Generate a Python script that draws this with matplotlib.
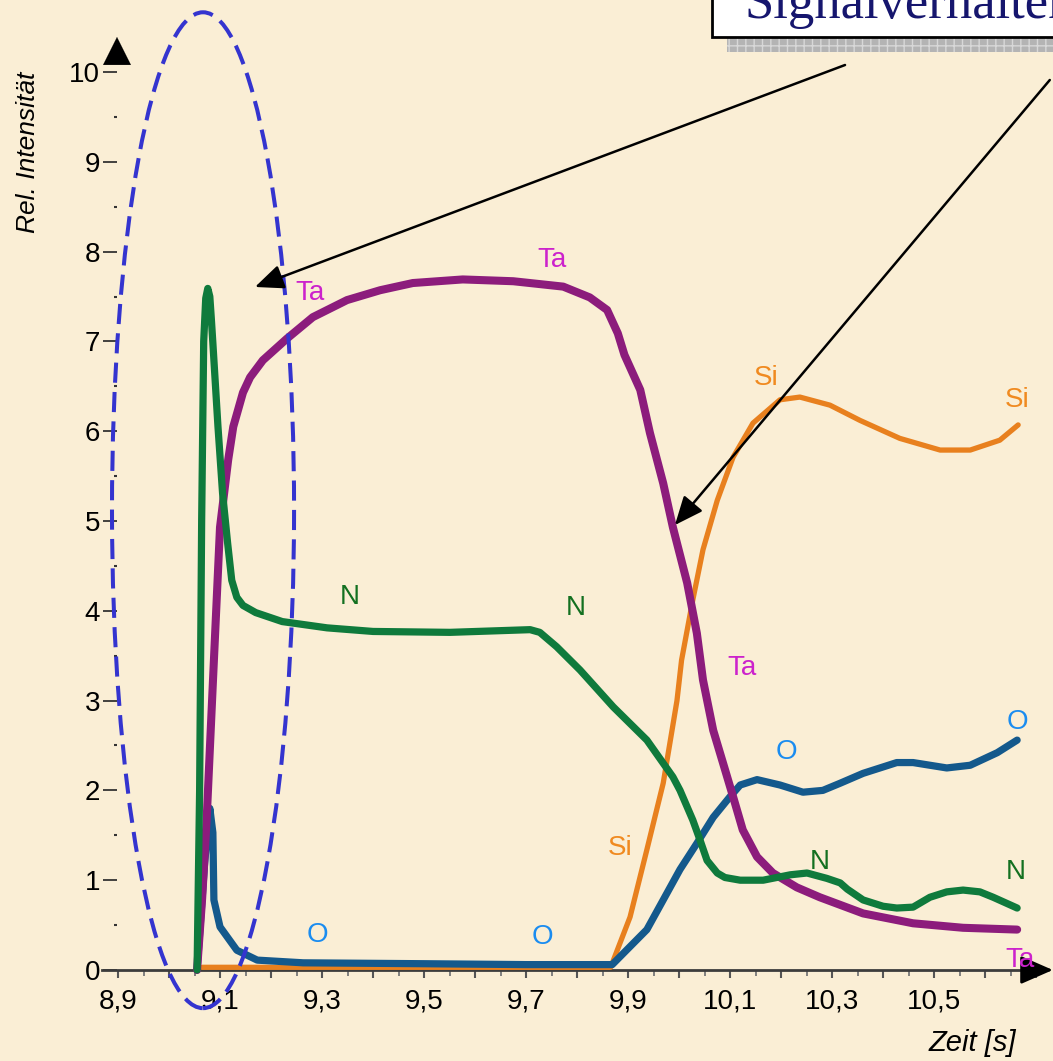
import numpy as np
import matplotlib
matplotlib.use("Agg")
import matplotlib.pyplot as plt
from matplotlib.patches import Ellipse, Rectangle

# --- data ---
n_t = [9.055, 9.060, 9.064, 9.068, 9.072, 9.076, 9.080, 9.083, 9.086, 9.096, 9.105, 9.115,
       9.123, 9.133, 9.145, 9.17, 9.222, 9.31, 9.40, 9.551, 9.708, 9.727, 9.76, 9.806, 9.871,
       9.937, 9.988, 10.002, 10.027, 10.041, 10.055, 10.075, 10.09, 10.12, 10.165, 10.218,
       10.251, 10.29, 10.316, 10.33, 10.361, 10.40, 10.427, 10.459, 10.492, 10.525, 10.557,
       10.59, 10.616, 10.663]
n_y = [0.0, 2.0, 5.0, 7.0, 7.48, 7.59, 7.5, 7.25, 6.98, 6.05, 5.31, 4.75,
       4.34, 4.15, 4.06, 3.98, 3.88, 3.81, 3.77, 3.76, 3.79, 3.76, 3.6, 3.34, 2.93,
       2.56, 2.15, 2.0, 1.67, 1.45, 1.22, 1.08, 1.03, 1.0, 1.0, 1.06,
       1.08, 1.02, 0.97, 0.9, 0.78, 0.71, 0.69, 0.70, 0.81, 0.87, 0.89,
       0.87, 0.81, 0.69]

ta_t = [9.055, 9.065, 9.074, 9.086, 9.100, 9.116, 9.126, 9.145, 9.159, 9.184, 9.231, 9.282,
        9.349, 9.414, 9.478, 9.576, 9.675, 9.773, 9.825, 9.859, 9.880, 9.893, 9.924, 9.943,
        9.969, 9.988, 10.016, 10.035, 10.047, 10.067, 10.086, 10.106, 10.125, 10.153, 10.184,
        10.231, 10.276, 10.361, 10.459, 10.557, 10.663]
ta_y = [0.0, 0.8, 1.70, 3.2, 4.93, 5.68, 6.05, 6.43, 6.60, 6.79, 7.03, 7.27,
        7.46, 7.57, 7.65, 7.69, 7.67, 7.61, 7.49, 7.35, 7.09, 6.85, 6.46, 5.98,
        5.42, 4.93, 4.31, 3.75, 3.23, 2.67, 2.31, 1.93, 1.56, 1.26, 1.08,
        0.92, 0.81, 0.63, 0.52, 0.47, 0.45]

o_t = [9.055, 9.070, 9.080, 9.086, 9.088, 9.100, 9.133, 9.173, 9.263, 9.5, 9.7, 9.869,
       9.937, 10.002, 10.035, 10.067, 10.1, 10.12, 10.153, 10.198, 10.243, 10.282, 10.316,
       10.361, 10.427, 10.459, 10.525, 10.571, 10.624, 10.663]
o_y = [0.0, 1.2, 1.8, 1.53, 0.78, 0.48, 0.22, 0.11, 0.08, 0.07, 0.06, 0.06,
       0.45, 1.12, 1.41, 1.70, 1.93, 2.06, 2.12, 2.06, 1.98, 2.00, 2.08,
       2.19, 2.31, 2.31, 2.25, 2.28, 2.42, 2.56]

si_t = [9.065, 9.5, 9.866, 9.904, 9.937, 9.969, 9.996, 10.005, 10.027, 10.047, 10.075, 10.106,
        10.145, 10.198, 10.237, 10.296, 10.355, 10.433, 10.512, 10.571, 10.629, 10.665]
si_y = [0.03, 0.03, 0.03, 0.59, 1.34, 2.08, 3.0, 3.45, 4.12, 4.68, 5.23, 5.71,
        6.09, 6.35, 6.38, 6.29, 6.12, 5.92, 5.79, 5.79, 5.90, 6.07]

# curve labels: (t, y)
ta_labels = [(9.276, 7.54), (9.751, 7.91), (10.124, 3.36), (10.669, 0.11)]
n_labels = [(9.355, 4.15), (9.798, 4.03), (10.276, 1.20), (10.661, 1.09)]
o_labels = [(9.292, 0.39), (9.733, 0.37), (10.21, 2.43), (10.663, 2.76)]
si_labels = [(10.171, 6.59), (10.663, 6.35), (9.884, 1.36)]

x_major = np.round(np.arange(8.9, 10.71, 0.1), 2)
x_labels = ['8,9', '9,1', '9,3', '9,5', '9,7', '9,9', '10,1', '10,3', '10,5']
y_major = list(range(0, 11))

plt.rcParams['font.family'] = ['Liberation Sans', 'DejaVu Sans']

fig = plt.figure(figsize=(10.53, 10.61), dpi=100)
fig.patch.set_facecolor('#faeed5')
ax = fig.add_axes([0, 0, 1, 1])
ax.set_facecolor('none')
ax.set_xlim(8.6686, 10.7333)
ax.set_ylim(-1.0134, 10.8018)

for s in ['top', 'right', 'left']:
    ax.spines[s].set_visible(False)
ax.spines['left'].set_position(('data', 8.898))
ax.spines['bottom'].set_position(('data', 0))
ax.spines['bottom'].set_bounds(8.868, 10.70)
ax.spines['bottom'].set_color('#3c3c3c')
ax.spines['bottom'].set_linewidth(2)

xl = []
for i in range(len(x_major)):
    if i % 2 == 0 and i // 2 < len(x_labels):
        xl.append(x_labels[i // 2])
    else:
        xl.append('')
ax.set_xticks(x_major)
ax.set_xticklabels(xl)
ax.set_xticks(np.round(np.arange(8.95, 10.7, 0.1), 2), minor=True)
ax.tick_params(axis='x', which='major', length=6, width=1.5, color='#555555',
               labelsize=20, pad=7)
ax.tick_params(axis='x', which='minor', length=4, width=1.3, color='#777777')
ax.set_yticks(y_major)
ax.set_yticklabels([str(v) for v in y_major])
ax.set_yticks(np.arange(0.5, 10, 1), minor=True)
ax.tick_params(axis='y', which='major', length=10, width=1.3, color='#333333',
               labelsize=20, pad=2)
ax.tick_params(axis='y', which='minor', length=2, width=1.5, color='#333333')

# axis arrows
ax.annotate('', xy=(10.733, 0), xytext=(10.69, 0),
            arrowprops=dict(arrowstyle='-|>,head_length=0.8,head_width=0.35',
                            color='black', lw=2, mutation_scale=25, shrinkA=0, shrinkB=0))
ax.annotate('', xy=(8.898, 10.39), xytext=(8.898, 10.2),
            arrowprops=dict(arrowstyle='-|>,head_length=0.8,head_width=0.4',
                            color='black', lw=0.1, mutation_scale=25, shrinkA=0, shrinkB=0))

kw = dict(solid_capstyle='round', solid_joinstyle='round')
ax.plot(si_t, si_y, color='#e8801e', lw=3.8, zorder=3, **kw)
ax.plot(o_t, o_y, color='#14598c', lw=5.2, zorder=4, **kw)
ax.plot(ta_t, ta_y, color='#8c1c7c', lw=5.8, zorder=5, **kw)
ax.plot(n_t, n_y, color='#0f7a3c', lw=5.2, zorder=6, **kw)

for t, y in ta_labels:
    ax.text(t, y, 'Ta', color='#cc22cc', fontsize=20, ha='center', va='center', zorder=7)
for t, y in n_labels:
    ax.text(t, y, 'N', color='#137020', fontsize=20, ha='center', va='center', zorder=7)
for t, y in o_labels:
    ax.text(t, y, 'O', color='#1a8cf0', fontsize=20, ha='center', va='center', zorder=7)
for t, y in si_labels:
    ax.text(t, y, 'Si', color='#f08a20', fontsize=20, ha='center', va='center', zorder=7)

# dashed ellipse around the start peak
ax.add_patch(Ellipse((9.0667, 5.12), 0.357, 11.09, fill=False, ec='#3434cf',
                     lw=2.9, ls=(0, (5, 2.3)), zorder=8))

# pointer arrows from the caption box
ax.annotate('', xy=(9.1686, 7.606), xytext=(10.3255, 10.078),
            arrowprops=dict(arrowstyle='-|>,head_length=0.7,head_width=0.3',
                            color='black', lw=1.8, mutation_scale=25, shrinkA=0, shrinkB=0),
            zorder=9)
ax.annotate('', xy=(9.992, 4.955), xytext=(10.727, 9.911),
            arrowprops=dict(arrowstyle='-|>,head_length=0.7,head_width=0.3',
                            color='black', lw=1.8, mutation_scale=25, shrinkA=0, shrinkB=0),
            zorder=9)

fig.text(28 / 1053, 1 - 152 / 1061, 'Rel. Intensität', rotation=90, style='italic',
         fontsize=19, ha='center', va='center')
fig.text(972 / 1053, 1 - 1043 / 1061, 'Zeit [s]', style='italic', fontsize=21,
         ha='center', va='center')

# caption box (cut off by the top right corner, as in the slide)
fig.patches.append(Rectangle((727 / 1053, 1 - 52 / 1061), 0.4, 16 / 1061,
                             transform=fig.transFigure, fc='#b4b4b4', ec='#d8d8d8',
                             hatch='++', lw=0, zorder=1))
fig.patches.append(Rectangle((712 / 1053, 1 - 37 / 1061), 0.4, 0.1,
                             transform=fig.transFigure, fc='white', ec='black',
                             lw=2, zorder=2))
fig.text(745 / 1053, 1 - 18 / 1061, 'Signalverhalten', fontsize=38,
         family=['Liberation Serif', 'DejaVu Serif'], color='#16166e', va='baseline',
         ha='left', zorder=3)

fig.savefig('out.png', dpi=100, facecolor=fig.get_facecolor())
